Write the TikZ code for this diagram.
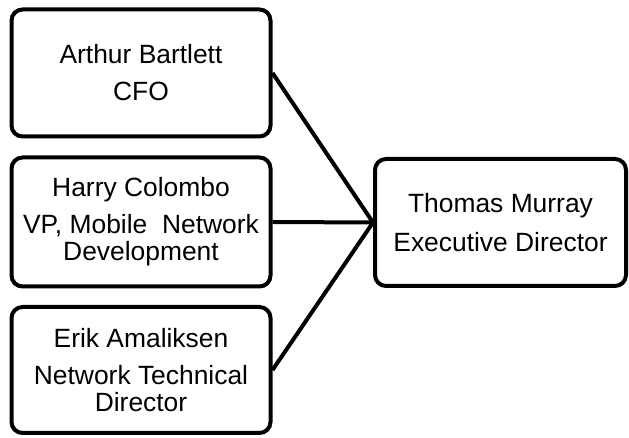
\documentclass[tikz,border=0pt]{standalone}
\usepackage{fontspec}
\setmainfont{Liberation Sans}
\begin{document}
\begin{tikzpicture}[x=1pt,y=1pt,
  box/.style={draw=black, line width=4pt, rounded corners=11pt, fill=white,
    inner sep=0pt, align=center, font=\fontsize{26.4}{27}\selectfont},
  link/.style={draw=black, line width=4pt}]
\useasboundingbox (0,0) rectangle (629,438);
\node[box, minimum width=259pt, minimum height=127pt] (a) at (141,438-73)
  {Arthur Bartlett\\[10pt]CFO};
\node[box, minimum width=259pt, minimum height=129pt] (h) at (141,438-222)
  {Harry Colombo\\[10pt]VP, Mobile\ \ Network\\Development};
\node[box, minimum width=259pt, minimum height=126pt] (e) at (141,438-370)
  {Erik Amaliksen\\[10pt]Network Technical\\Director};
\node[box, minimum width=251pt, minimum height=127pt] (t) at (500.5,438-222.5)
  {Thomas Murray\\[12pt]Executive Director};
\draw[link] (a.east) -- (t.west);
\draw[link] (h.east) -- (t.west);
\draw[link] (e.east) -- (t.west);
\end{tikzpicture}
\end{document}
